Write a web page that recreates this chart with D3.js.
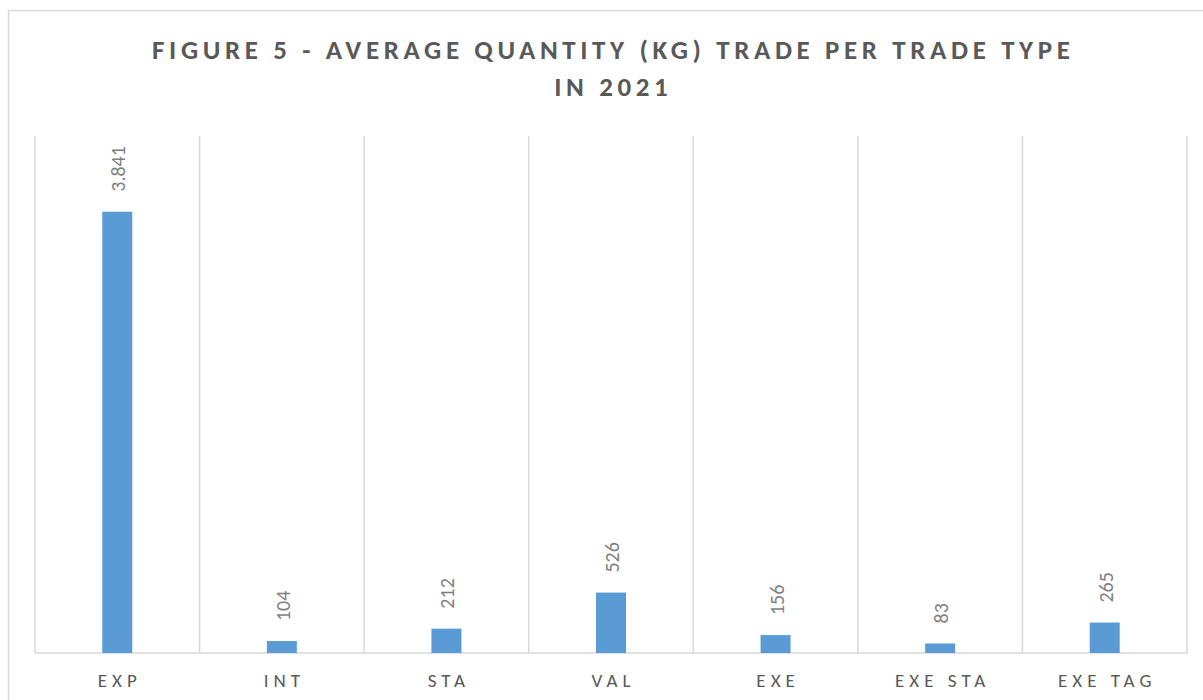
<!DOCTYPE html>
<html>
<head>
<meta charset="utf-8">
<script src="https://cdn.jsdelivr.net/npm/d3@7"></script>
<style>
  body { margin: 0; background: #fff; }
  svg { display: block; font-family: Carlito, "Liberation Sans", Arial, sans-serif; }
</style>
</head>
<body>
<svg id="chart" width="1203" height="700"></svg>
<script>
// values
const categories = ["EXP", "INT", "STA", "VAL", "EXE", "EXE STA", "EXE TAG"];
const avgQuantity = [3841, 104, 212, 526, 156, 83, 265];
const titleLines = ["FIGURE 5 - AVERAGE QUANTITY (KG) TRADE PER TRADE TYPE", "IN 2021"];

const width = 1203, height = 700;
const margin = {top: 136, right: 16, bottom: 47, left: 35};

const svg = d3.select("#chart");

// chart frame
svg.append("rect")
  .attr("x", 8.5).attr("y", 10.5)
  .attr("width", 1210).attr("height", 710)
  .attr("fill", "#fff")
  .attr("stroke", "#d9d9d9")
  .attr("stroke-width", 1.5);

const x = d3.scaleBand()
  .domain(categories)
  .range([margin.left, width - margin.right]);

const y = d3.scaleLinear()
  .domain([0, 4500])
  .range([height - margin.bottom, margin.top]);

const fmt = d3.formatLocale({decimal: ",", thousands: ".", grouping: [3], currency: ["", "€"]}).format(",d");

// vertical gridlines between categories
const bounds = categories.map(c => x(c)).concat([x.range()[1]]);
svg.append("g")
  .selectAll("line")
  .data(bounds)
  .enter()
  .append("line")
  .attr("x1", d => d).attr("x2", d => d)
  .attr("y1", y(4500)).attr("y2", y(0))
  .attr("stroke", "#d9d9d9")
  .attr("stroke-width", 1.5);

// baseline
svg.append("line")
  .attr("x1", x.range()[0]).attr("x2", x.range()[1])
  .attr("y1", y(0)).attr("y2", y(0))
  .attr("stroke", "#d9d9d9")
  .attr("stroke-width", 1.5);

const barW = 30;
const rows = categories.map((c, i) => ({cat: c, value: avgQuantity[i]}));

svg.append("g")
  .selectAll("rect")
  .data(rows)
  .enter()
  .append("rect")
  .attr("x", d => x(d.cat) + x.bandwidth() / 2 - barW / 2)
  .attr("y", d => y(d.value))
  .attr("width", barW)
  .attr("height", d => y(0) - y(d.value))
  .attr("fill", "#5b9bd5");

// data labels, rotated
svg.append("g")
  .selectAll("text")
  .data(rows)
  .enter()
  .append("text")
  .attr("transform", d => "translate(" + (x(d.cat) + x.bandwidth() / 2 + 8) + "," + (y(d.value) - 20) + ") rotate(-90)")
  .attr("text-anchor", "start")
  .attr("fill", "#7f7f7f")
  .style("font-size", "20px")
  .text(d => fmt(d.value));

// category labels
svg.append("g")
  .selectAll("text")
  .data(categories)
  .enter()
  .append("text")
  .attr("x", d => x(d) + x.bandwidth() / 2 + 2.5)
  .attr("y", 687)
  .attr("text-anchor", "middle")
  .attr("fill", "#595959")
  .style("font-size", "19px")
  .style("letter-spacing", "5px")
  .text(d => d);

// title
svg.append("g")
  .selectAll("text")
  .data(titleLines)
  .enter()
  .append("text")
  .attr("x", 611 + 2.3)
  .attr("y", (d, i) => 59 + i * 37)
  .attr("text-anchor", "middle")
  .attr("fill", "#595959")
  .style("font-size", "27px")
  .style("font-weight", "bold")
  .style("letter-spacing", "4.6px")
  .text(d => d);
</script>
</body>
</html>
